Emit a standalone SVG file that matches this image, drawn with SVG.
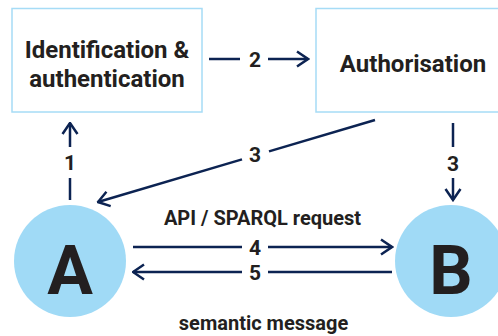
<svg xmlns="http://www.w3.org/2000/svg" width="498" height="336" viewBox="0 0 498 336">
<style>
.box{fill:#ffffff;stroke:#a6dcf6;stroke-width:1.5}
.node{fill:#a0daf6}
.t{font-family:Roboto,"Liberation Sans",sans-serif;font-weight:bold;fill:#231f20;text-anchor:middle}
.big{font-size:68px}
.lbl{font-size:24px}
.num{font-size:21px}
.cap{font-size:20px}
.ln{stroke:#0c2352;stroke-width:2.5;fill:none}
</style>
<defs>
<marker id="ah" viewBox="0 0 14 18" refX="12.5" refY="9" markerWidth="14" markerHeight="18" markerUnits="userSpaceOnUse" orient="auto">
<path d="M1.5,1.5 L12.5,9 L1.5,16.5" fill="none" stroke="#0c2352" stroke-width="2.5"/>
</marker>
</defs>
<rect width="498" height="336" fill="#ffffff"/>
<g id="idauth">
<rect class="box" x="12" y="8.5" width="190" height="103.5"/>
<text class="t lbl" x="107" y="58">Identification &amp;</text>
<text class="t lbl" x="107" y="87">authentication</text>
</g>
<g id="authorisation">
<rect class="box" x="316" y="8.5" width="200" height="103.5"/>
<text class="t lbl" x="413" y="72">Authorisation</text>
</g>
<g id="A">
<circle class="node" cx="70" cy="261" r="56"/>
<text class="t big" x="70" y="294">A</text>
</g>
<g id="B">
<circle class="node" cx="451" cy="261" r="56"/>
<text class="t big" x="451" y="294">B</text>
</g>
<g id="connectors">
<line class="ln" x1="70" y1="200" x2="70" y2="178"/>
<line class="ln" x1="70" y1="147" x2="70" y2="123" marker-end="url(#ah)"/>
<text class="t num" x="70" y="170">1</text>
<line class="ln" x1="209" y1="59" x2="240" y2="59"/>
<line class="ln" x1="268" y1="59" x2="308" y2="59" marker-end="url(#ah)"/>
<text class="t num" x="255" y="66.5">2</text>
<line class="ln" x1="375" y1="120" x2="269" y2="151.4"/>
<line class="ln" x1="242" y1="159.4" x2="98" y2="202" marker-end="url(#ah)"/>
<text class="t num" x="255" y="161.5">3</text>
<line class="ln" x1="453" y1="123" x2="453" y2="147"/>
<line class="ln" x1="453" y1="178" x2="453" y2="200" marker-end="url(#ah)"/>
<text class="t num" x="453" y="170.5">3</text>
<text class="t cap" x="262.5" y="225">API / SPARQL request</text>
<line class="ln" x1="133" y1="247" x2="242" y2="247"/>
<line class="ln" x1="268" y1="247" x2="392" y2="247" marker-end="url(#ah)"/>
<text class="t num" x="255" y="255">4</text>
<line class="ln" x1="392" y1="272" x2="268" y2="272"/>
<line class="ln" x1="242" y1="272" x2="133" y2="272" marker-end="url(#ah)"/>
<text class="t num" x="255" y="280">5</text>
<text class="t cap" x="263.5" y="330">semantic message</text>
</g>
</svg>
